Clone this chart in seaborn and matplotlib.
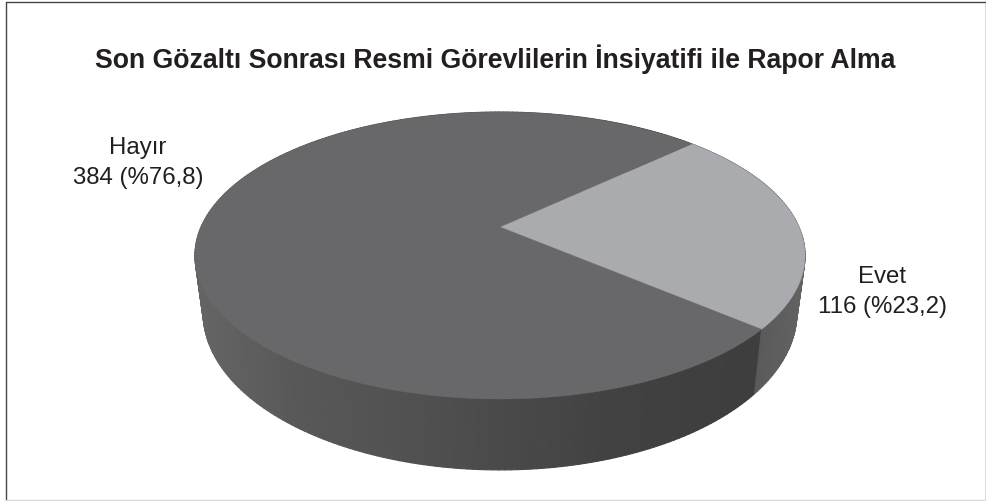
import numpy as np
import matplotlib
matplotlib.use("Agg")
import matplotlib.pyplot as plt
from matplotlib.collections import PolyCollection
from matplotlib.lines import Line2D
from matplotlib.patches import Polygon
import seaborn as sns

# Chart content
title = "Son Gözaltı Sonrası Resmi Görevlilerin İnsiyatifi ile Rapor Alma"
categories = ["Evet", "Hayır"]
counts = [116, 384]
percent_labels = ["116 (%23,2)", "384 (%76,8)"]

sns.set_theme(style="white")
plt.rcParams["font.family"] = ["Liberation Sans", "DejaVu Sans"]
face_colors = sns.color_palette(["#aaabae", "#68686a"])

W, H = 986, 502
fig = plt.figure(figsize=(W / 100, H / 100), dpi=100, facecolor="white")
ax = fig.add_axes([0, 0, 1, 1])

# The pie layout supplies each slice's angular extent
wedges, _ = ax.pie(counts, startangle=-40.3, colors=face_colors, radius=1)
spans = [(w.theta1, w.theta2) for w in wedges]
for w in wedges:
    w.remove()
ax.set_aspect("auto")
ax.set_xlim(0, W)
ax.set_ylim(H, 0)
ax.axis("off")


def top_face(theta_deg):
    """Perspective projection of the unit disc onto the upper face."""
    t = np.radians(theta_deg)
    u, v = np.cos(t), np.sin(t)
    k = 0.1986
    return 500 + 299 * u / (1 + k * v), 228 - 137.8 * v / (1 + k * v)


def bottom_face(theta_deg):
    """Lower rim of the disc, slightly narrower than the upper face."""
    x, y = top_face(theta_deg)
    return 500 + 0.973 * (x - 500), 314 + 1.094 * (y - 256.5)


# Side wall, shaded by horizontal position
hayir_x = [195, 300, 400, 500, 620, 770]
hayir_g = [0.40, 0.345, 0.32, 0.29, 0.255, 0.24]
evet_x = [750, 805]
evet_g = [0.35, 0.39]


def wall_polys(theta1, theta2, stops_x, stops_g):
    edges = np.linspace(theta1, theta2, int(abs(theta2 - theta1)) + 2)
    xt, yt = top_face(edges)
    xb, yb = bottom_face(edges)
    polys, colors = [], []
    for i in range(len(edges) - 1):
        polys.append([(xt[i], yt[i]), (xt[i + 1], yt[i + 1]),
                      (xb[i + 1], yb[i + 1]), (xb[i], yb[i])])
        g = np.interp((xb[i] + xb[i + 1]) / 2, stops_x, stops_g)
        colors.append((g, g, g))
    return polys, colors


evet_span, hayir_span = spans
for span, sx, sg in [(hayir_span, hayir_x, hayir_g), (evet_span, evet_x, evet_g)]:
    polys, colors = wall_polys(span[0], span[1], sx, sg)
    ax.add_collection(PolyCollection(polys, facecolors=colors, edgecolors=colors,
                                     linewidths=0.8, zorder=2))

# Upper face of each slice
for (t1, t2), color in zip(spans, face_colors):
    th = np.linspace(t1, t2, 400)
    x, y = top_face(th)
    pts = np.column_stack([np.r_[500, x], np.r_[228, y]])
    ax.add_patch(Polygon(pts, closed=True, facecolor=color, edgecolor=color,
                         linewidth=0.3, zorder=3))

# Title and slice labels
ink = "#231f20"
ax.text(495.5, 59, title, ha="center", va="center", fontsize=19.2,
        fontweight="bold", color=ink)
ax.text(882, 292, f"{categories[0]}\n{percent_labels[0]}", ha="center", va="center",
        fontsize=17.3, color=ink, linespacing=1.45)
ax.text(138, 163, f"{categories[1]}\n{percent_labels[1]}", ha="center", va="center",
        fontsize=17.3, color=ink, linespacing=1.45)

# Outer frame
for xs, ys, c in [((6, 985.5), (2.5, 2.5), "#444444"),
                  ((6, 6), (2.5, 501), "#444444"),
                  ((985.5, 985.5), (2.5, 501), "#555555"),
                  ((6, 985.5), (501, 501), "#d8d8d8")]:
    ax.add_line(Line2D(xs, ys, color=c, linewidth=1.0, zorder=5))

fig.savefig("out.png", dpi=100, facecolor="white")
